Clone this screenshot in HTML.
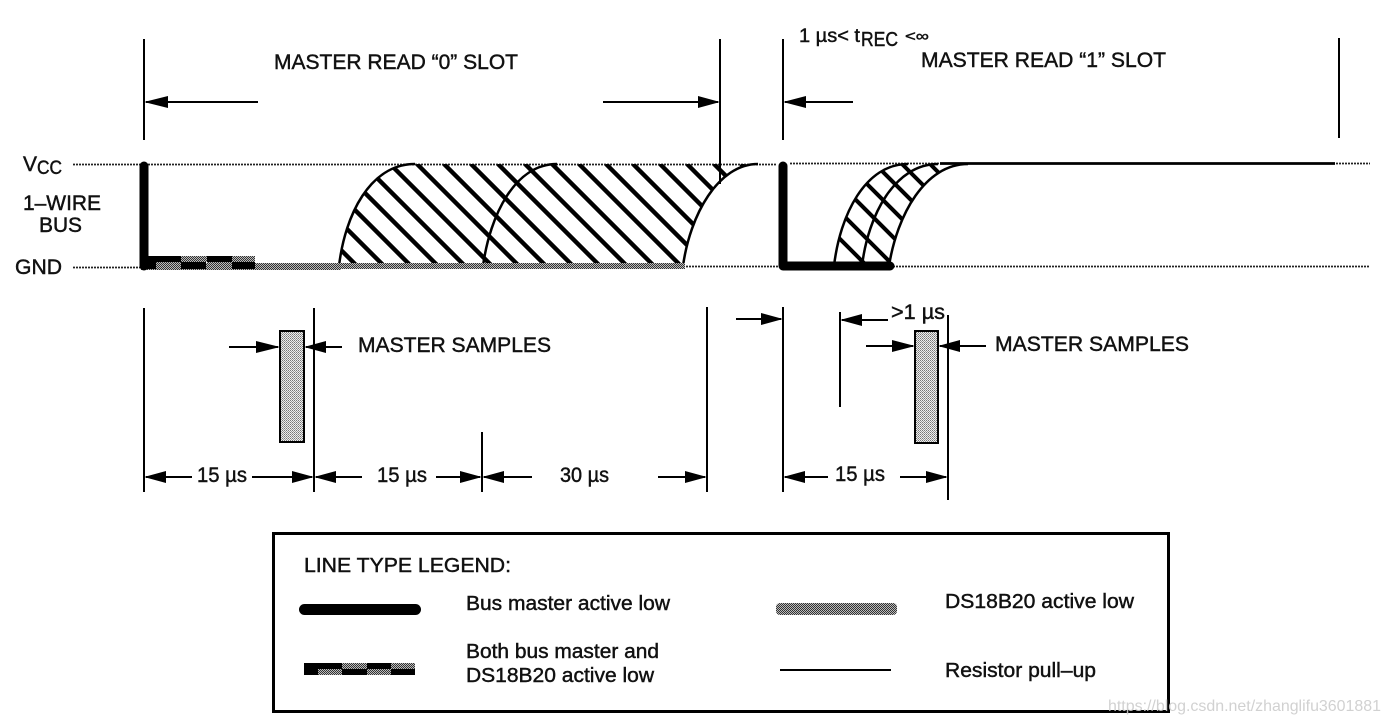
<!DOCTYPE html>
<html><head><meta charset="utf-8"><style>
html,body{margin:0;padding:0;background:#fff;width:1388px;height:724px;overflow:hidden}
svg{display:block}
text{font-family:"Liberation Sans",sans-serif;font-size:21px;fill:#111;stroke:#111;stroke-width:.45}
.l{font-size:20.5px}
</style></head><body>
<svg width="1388" height="724" viewBox="0 0 1388 724" xmlns="http://www.w3.org/2000/svg">
<defs>
<pattern id="d" width="2" height="2" patternUnits="userSpaceOnUse"><rect width="2" height="2" fill="#bbb"/><rect width="1" height="1" fill="#333"/><rect x="1" y="1" width="1" height="1" fill="#333"/></pattern>
<pattern id="s" width="2" height="2" patternUnits="userSpaceOnUse"><rect width="2" height="2" fill="#eee"/><rect width="1" height="1" fill="#777"/><rect x="1" y="1" width="1" height="1" fill="#999"/></pattern>
<clipPath id="c1"><path d="M339 266C345 215 370 164 415 164L760 164C718 164 690 215 683 266Z"/></clipPath>
<clipPath id="c2"><path d="M834 266C840 215 865 164 908 164L965 164C925 164 897 215 889 266Z"/></clipPath>
</defs>
<rect width="1388" height="724" fill="#fff"/>

<!-- dotted rails -->
<g stroke="#222" stroke-width="1.700" stroke-dasharray="2 1" fill="none">
<path d="M73 164.500H720M720 164.500H776M790 163.500H1370"/>
<path d="M73 267.500H144M680 266.500H780M890 266.500H1370"/>
</g>

<!-- hatching -->
<g clip-path="url(#c1)" stroke="#000" stroke-width="4.400">
<path d="M255 164L360 269M282 164L387 269M309 164L414 269M336 164L441 269M363 164L468 269M390 164L495 269M417 164L522 269M444 164L549 269M471 164L576 269M498 164L603 269M525 164L630 269M552 164L657 269M579 164L684 269M606 164L711 269M633 164L738 269M660 164L765 269M687 164L792 269M714 164L819 269M741 164L846 269"/>
</g>
<g clip-path="url(#c2)" stroke="#000" stroke-width="4">
<path d="M765 164L870 269M792 164L897 269M820 164L925 269M847 164L952 269M875 164L980 269M902 164L1007 269M930 164L1035 269"/>
</g>

<!-- curves -->
<g fill="none" stroke="#000" stroke-width="2.500">
<path d="M339 266C345 215 370 164 415 164"/>
<path d="M483 266C490 215 515 164 557 164"/>
<path d="M683 266C690 215 718 164 758 164"/>
<path d="M834 266C840 215 865 164 908 164"/>
<path d="M862 266C868 215 895 164 938 164"/>
<path d="M889 266C897 215 925 164 968 164"/>
</g>
<path d="M940 163.500H1335" stroke="#000" stroke-width="2.800" fill="none"/>

<!-- slot 0 bus -->
<rect x="141" y="263" width="200" height="7" fill="url(#d)"/>
<rect x="340" y="263" width="345" height="6" fill="url(#d)"/>
<path d="M144 166V266" stroke="#000" stroke-width="9" stroke-linecap="round" fill="none"/>
<rect x="141" y="256" width="40" height="7" fill="#000"/>
<rect x="141" y="262" width="15" height="7" fill="#000"/>
<rect x="181" y="262" width="25" height="7" fill="#000"/>
<rect x="207" y="256" width="25" height="7" fill="#000"/>
<rect x="232" y="262" width="23" height="7" fill="#000"/>
<rect x="232" y="256" width="23" height="6" fill="url(#d)"/>
<rect x="181" y="256" width="26" height="6" fill="url(#d)"/>
<rect x="156" y="262" width="25" height="7" fill="url(#d)"/>
<rect x="207" y="262" width="25" height="7" fill="url(#d)"/>

<!-- slot 1 bus -->
<path d="M783 166V266H890" stroke="#000" stroke-width="9" stroke-linecap="round" stroke-linejoin="round" fill="none"/>

<!-- verticals -->
<g stroke="#000" stroke-width="2" fill="none">
<path d="M144 39V140M720 39V184M783 39V140M1339 38V138"/>
<path d="M144 308V492M314 308V492M482 432V492M707 307V492M783 307V492M840 312V407M948 315V500"/>
</g>

<!-- arrows -->
<g stroke="#000" stroke-width="2" fill="none">
<path d="M146 102H258M603 102H718M785 102H853"/>
<path d="M229 347H278M306 347H342"/>
<path d="M866 346H913M940 346H986"/>
<path d="M736 319H781M842 320H888"/>
<path d="M146 477H192M252 477H312M316 477H362M436 477H480M484 477H532M658 477H705M785 477H828M900 477H946"/>
</g>
<g fill="#000">
<path d="M144 102L168 96V108ZM720 102L698 96V108ZM783 102L806 96V108Z"/>
<path d="M280 347L256 341V353ZM304 347L326 341V353Z"/>
<path d="M915 346L892 340V352ZM938 346L960 340V352Z"/>
<path d="M783 319L761 313V325ZM840 320L862 314V326Z"/>
<path d="M144 477L166 471V483ZM314 477L292 471V483ZM314 477L336 471V483ZM482 477L460 471V483ZM482 477L504 471V483ZM707 477L685 471V483ZM783 477L805 471V483ZM948 477L926 471V483Z"/>
</g>

<!-- sample rects -->
<rect x="280" y="331" width="24" height="111" fill="url(#s)" stroke="#000" stroke-width="2"/>
<rect x="915" y="331" width="23" height="112" fill="url(#s)" stroke="#000" stroke-width="2"/>

<!-- labels -->
<text x="274" y="69" textLength="244" lengthAdjust="spacingAndGlyphs">MASTER READ “0” SLOT</text>
<text x="921" y="67" textLength="245" lengthAdjust="spacingAndGlyphs">MASTER READ “1” SLOT</text>
<text x="799" y="42" style="font-size:19px" textLength="61" lengthAdjust="spacingAndGlyphs">1 µs&lt; t</text>
<text x="861" y="46" style="font-size:20px" textLength="37" lengthAdjust="spacingAndGlyphs">REC</text>
<text x="905" y="41" style="font-size:15px" textLength="24" lengthAdjust="spacingAndGlyphs">&lt;∞</text>
<text x="23" y="171" style="font-size:21px">V</text>
<text x="37" y="174" style="font-size:19px" textLength="25" lengthAdjust="spacingAndGlyphs">CC</text>
<text x="23" y="210" textLength="78" lengthAdjust="spacingAndGlyphs">1–WIRE</text>
<text x="39" y="232" textLength="43" lengthAdjust="spacingAndGlyphs">BUS</text>
<text x="15" y="274" textLength="47" lengthAdjust="spacingAndGlyphs">GND</text>
<text x="358" y="352" textLength="193" lengthAdjust="spacingAndGlyphs">MASTER SAMPLES</text>
<text x="995" y="351" textLength="194" lengthAdjust="spacingAndGlyphs">MASTER SAMPLES</text>
<text x="891" y="319" textLength="54" lengthAdjust="spacingAndGlyphs">&gt;1 µs</text>
<text x="197" y="482" textLength="50" lengthAdjust="spacingAndGlyphs">15 µs</text>
<text x="377" y="482" textLength="50" lengthAdjust="spacingAndGlyphs">15 µs</text>
<text x="560" y="482" textLength="49" lengthAdjust="spacingAndGlyphs">30 µs</text>
<text x="835" y="481" textLength="50" lengthAdjust="spacingAndGlyphs">15 µs</text>

<!-- legend -->
<rect x="273.500" y="533.500" width="895" height="178" fill="none" stroke="#000" stroke-width="3"/>
<text class="l" x="304" y="572" textLength="207" lengthAdjust="spacingAndGlyphs">LINE TYPE LEGEND:</text>
<text class="l" x="466" y="610" textLength="204" lengthAdjust="spacingAndGlyphs">Bus master active low</text>
<text class="l" x="466" y="658" textLength="193" lengthAdjust="spacingAndGlyphs">Both bus master and</text>
<text class="l" x="466" y="682" textLength="188" lengthAdjust="spacingAndGlyphs">DS18B20 active low</text>
<text class="l" x="945" y="608" textLength="189" lengthAdjust="spacingAndGlyphs">DS18B20 active low</text>
<text class="l" x="945" y="677" textLength="151" lengthAdjust="spacingAndGlyphs">Resistor pull–up</text>
<rect x="299" y="604" width="122" height="11" rx="5.500" fill="#000"/>
<rect x="776" y="603" width="121" height="12" rx="4" fill="url(#d)"/>
<rect x="304" y="663" width="111" height="12" fill="url(#d)"/>
<rect x="304" y="663" width="38" height="12" fill="#000"/>
<rect x="342" y="669" width="25" height="6" fill="#000"/>
<rect x="367" y="663" width="24" height="6" fill="#000"/>
<rect x="391" y="669" width="24" height="6" fill="#000"/>
<rect x="318" y="669" width="24" height="6" fill="url(#d)"/>
<path d="M780 670H891" stroke="#000" stroke-width="2"/>

<!-- watermark -->
<text x="1108" y="711" style="font-size:16px;fill:#ccc;stroke:none" textLength="273" lengthAdjust="spacingAndGlyphs" fill-opacity=".9">https://blog.csdn.net/zhanglifu3601881</text>
</svg>
</body></html>
